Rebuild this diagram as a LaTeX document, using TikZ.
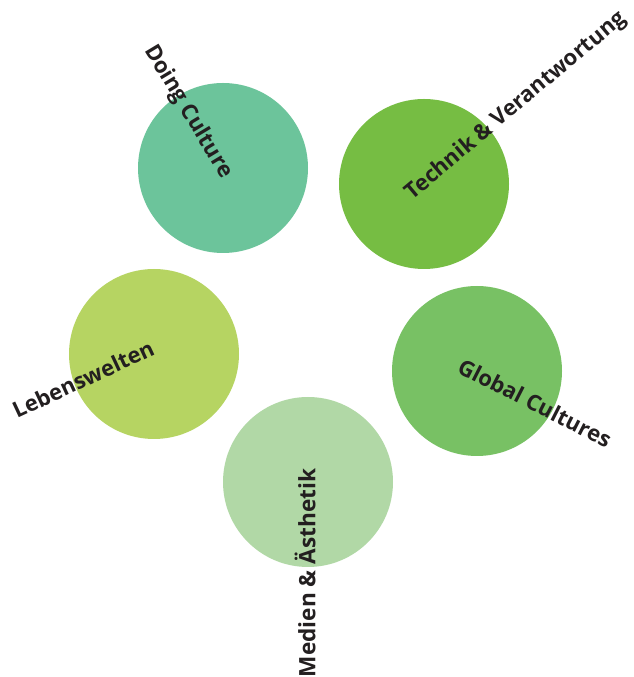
\documentclass[tikz,border=0pt]{standalone}
\usepackage{fontspec}
\setmainfont{Open Sans}
\definecolor{doing}{RGB}{108,196,155}
\definecolor{technik}{RGB}{118,189,67}
\definecolor{leben}{RGB}{182,212,98}
\definecolor{global}{RGB}{120,193,100}
\definecolor{medien}{RGB}{177,216,166}
\definecolor{ink}{RGB}{35,31,32}
\begin{document}
\begin{tikzpicture}[x=1pt, y=1pt,
        field/.style = {circle, minimum size=170pt, inner sep=0pt},
        topic/.style = {text=ink, font=\fontsize{22}{26}\selectfont\bfseries, inner sep=0pt}]
        \useasboundingbox (0,0) rectangle (633,677);

        \node[field, fill=doing]   (doing)   at (223,509) {};
        \node[field, fill=technik] (technik) at (424,493) {};
        \node[field, fill=leben]   (leben)   at (154,323) {};
        \node[field, fill=global]  (global)  at (477,306) {};
        \node[field, fill=medien]  (medien)  at (308,195) {};

        \node[topic, rotate=-59] (doingtext)   at (188,565) {Doing Culture};
        \node[topic, rotate=40]  (technitext)  at (516,571) {Technik \& Verantwortung};
        \node[topic, rotate=25]  (lebentext)   at (83,298)  {Lebenswelten};
        \node[topic, rotate=-27] (globaltext)  at (535,274) {Global Cultures};
        \node[topic, rotate=90, font=\fontsize{22.6}{26}\selectfont\bfseries]
                (medientext)  at (305,104) {Medien \& Ästhetik};
\end{tikzpicture}
\end{document}
